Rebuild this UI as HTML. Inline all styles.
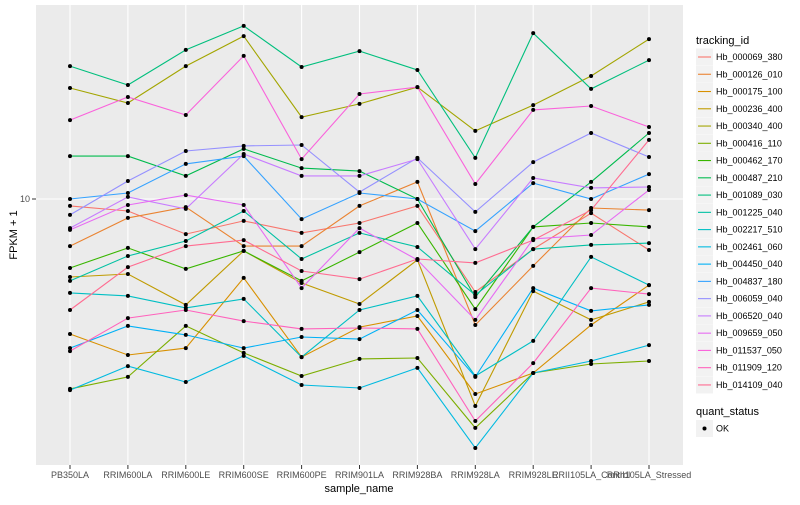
<!DOCTYPE html>
<html><head><meta charset="utf-8"><style>
body{margin:0;background:#fff;font-family:"Liberation Sans",sans-serif}
svg text{font-family:"Liberation Sans",sans-serif}
</style></head><body>
<svg id="chart" width="800" height="500">
<rect x="36" y="5" width="647" height="460" fill="#EBEBEB"/>
<g id="grid"></g><g id="lines"></g><g id="pts"></g><g id="axes"></g><g id="legend"></g>
</svg>
<script>
const categories=["PB350LA","RRIM600LA","RRIM600LE","RRIM600SE","RRIM600PE","RRIM901LA","RRIM928BA","RRIM928LA","RRIM928LE","RRII105LA_Control","RRII105LA_Stressed"];
const seriesNames=["Hb_000069_380","Hb_000126_010","Hb_000175_100","Hb_000236_400","Hb_000340_400","Hb_000416_110","Hb_000462_170","Hb_000487_210","Hb_001089_030","Hb_001225_040","Hb_002217_510","Hb_002461_060","Hb_004450_040","Hb_004837_180","Hb_006059_040","Hb_006520_040","Hb_009659_050","Hb_011537_050","Hb_011909_120","Hb_014109_040"];
const colors=["#F8766D","#EA8331","#D89000","#C09B00","#A3A500","#7CAE00","#39B600","#00BB4E","#00BF7D","#00C1A3","#00BFC4","#00BAE0","#00B0F6","#35A2FF","#9590FF","#C77CFF","#E76BF3","#FA62DB","#FF62BC","#FF6C91"];
// log10(FPKM + 1)
const s000069=[0.977,0.960,0.883,0.927,0.887,0.920,0.977,0.690,0.833,0.953,0.830];
const s000126=[0.843,0.937,0.973,0.843,0.843,0.977,1.057,0.580,0.777,0.970,0.963];
const s000175=[0.550,0.480,0.503,0.737,0.473,0.573,0.610,0.350,0.420,0.580,0.713];
const s000236=[0.740,0.750,0.647,0.827,0.720,0.650,0.797,0.310,0.693,0.597,0.657];
const s000340=[1.370,1.320,1.443,1.543,1.273,1.317,1.373,1.227,1.313,1.410,1.533];
const s000416=[0.367,0.407,0.577,0.487,0.410,0.467,0.470,0.237,0.420,0.450,0.460];
const s000462=[0.770,0.837,0.767,0.827,0.727,0.823,0.920,0.633,0.907,0.920,0.907];
const s000487=[1.143,1.143,1.077,1.167,1.103,1.093,1.000,0.673,0.907,1.057,1.220];
const s001089=[1.443,1.380,1.497,1.577,1.440,1.493,1.430,1.137,1.553,1.367,1.463];
const s001225=[0.727,0.810,0.860,0.960,0.800,0.887,0.840,0.680,0.833,0.847,0.853];
const s002217=[0.687,0.677,0.637,0.667,0.473,0.630,0.677,0.410,0.527,0.807,0.713];
const s002461=[0.363,0.443,0.390,0.477,0.380,0.370,0.437,0.170,0.420,0.460,0.513];
const s004450=[0.503,0.577,0.547,0.503,0.540,0.533,0.630,0.407,0.703,0.627,0.647];
const s004837=[1.000,1.020,1.117,1.143,0.933,1.020,1.000,0.893,1.053,1.000,1.083];
const s006059=[0.947,1.060,1.160,1.177,1.180,1.023,1.137,0.957,1.123,1.220,1.140];
const s006520=[0.903,1.007,0.967,1.150,1.077,1.077,1.133,0.833,1.070,1.037,1.040];
const s009659=[0.897,0.980,1.013,0.980,0.703,0.903,0.797,0.597,0.867,0.880,1.030];
const s011537=[1.263,1.340,1.280,1.477,1.133,1.350,1.373,1.050,1.297,1.310,1.240];
const s011909=[0.493,0.603,0.630,0.593,0.567,0.570,0.567,0.260,0.453,0.703,0.683];
const s014109=[0.630,0.773,0.843,0.863,0.760,0.733,0.800,0.787,0.863,0.963,1.197];
const yTicks=[1];
const yTickLabels=["10"];

const seriesData=[s000069,s000126,s000175,s000236,s000340,s000416,s000462,s000487,s001089,s001225,s002217,s002461,s004450,s004837,s006059,s006520,s009659,s011537,s011909,s014109];
const NS="http://www.w3.org/2000/svg";
function mk(t,a,p){const e=document.createElementNS(NS,t);for(const k in a)e.setAttribute(k,a[k]);p.appendChild(e);return e;}
const xS=i=>70+i*57.9;
const yS=l=>199-300*(l-1);
const grid=document.getElementById('grid');
categories.forEach((c,i)=>{const g=mk('line',{x1:xS(i),x2:xS(i),y1:5,y2:465,stroke:'#fff','stroke-width':1.1},grid);

});
yTicks.forEach(t=>{const g=mk('line',{x1:36,x2:683,y1:yS(t),y2:yS(t),stroke:'#fff','stroke-width':1.1},grid);

});
const lg=document.getElementById('lines'),pg=document.getElementById('pts');
seriesData.forEach((d,si)=>{
 const p=mk('polyline',{points:d.map((v,i)=>xS(i)+','+yS(v)).join(' '),fill:'none',stroke:colors[si],'stroke-width':1.1},lg);
 
 
 d.forEach((v,i)=>{const r=mk('circle',{cx:xS(i),cy:yS(v),r:2,fill:'#000'},pg);
 
 });
});
const ax=document.getElementById('axes');
yTicks.forEach((t,i)=>{const tk=mk('line',{x1:32,x2:36,y1:yS(t),y2:yS(t),stroke:'#333'},ax);


const tx=mk('text',{x:30,y:yS(t)+3,'text-anchor':'end','font-size':9,fill:'#4d4d4d'},ax);tx.textContent=yTickLabels[i];

});
categories.forEach((c,i)=>{const tk=mk('line',{x1:xS(i),x2:xS(i),y1:465,y2:469,stroke:'#333'},ax);


const tx=mk('text',{x:xS(i),y:478,'text-anchor':'middle','font-size':9,fill:'#4d4d4d'},ax);tx.textContent=c;

});
const xt=mk('text',{x:359,y:492,'text-anchor':'middle','font-size':11,fill:'#000'},ax);xt.textContent='sample_name';


const yt=mk('text',{x:17,y:235,'text-anchor':'middle','font-size':11,fill:'#000',transform:'rotate(-90 17 235)'},ax);yt.textContent='FPKM + 1';


const L=document.getElementById('legend');
const lt=mk('text',{x:696,y:44,'font-size':11,fill:'#000'},L);lt.textContent='tracking_id';


seriesNames.forEach((n,i)=>{const y=57+i*17.26;
 const bg=mk('rect',{x:696,y:y-8.5,width:17,height:17,fill:'#F2F2F2'},L);
 
 
 const ln=mk('line',{x1:698,x2:711,y1:y,y2:y,stroke:colors[i],'stroke-width':1.1},L);
 
 
 const t=mk('text',{x:716,y:y+3,'font-size':9,fill:'#000'},L);t.textContent=n;
 
 });
const qt=mk('text',{x:696,y:415,'font-size':11,fill:'#000'},L);qt.textContent='quant_status';


const qb=mk('rect',{x:696,y:420,width:17,height:17,fill:'#F2F2F2'},L);


const qp=mk('circle',{cx:704.5,cy:428.5,r:2,fill:'#000'},L);


const qo=mk('text',{x:716,y:431.5,'font-size':9,fill:'#000'},L);qo.textContent='OK';


</script>
</body></html>
